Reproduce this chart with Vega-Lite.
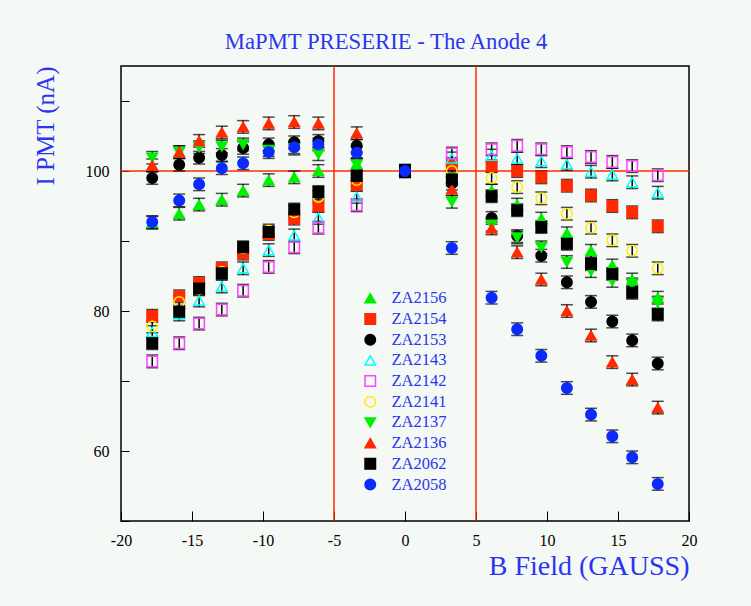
{
"$schema": "https://vega.github.io/schema/vega-lite/v6.json",
"width": 568, "height": 455,
"autosize": {"type": "none"},
"padding": {"left": 121, "top": 66, "right": 62, "bottom": 85},
"background": "#f5f9f5",
"config": {"view": {"stroke": "black", "strokeWidth": 1.5, "fill": "#f5f9f5"}, "font": "Liberation Serif",
 "axis": {"labelOverlap": false, "labelBound": false, "labelFlush": false, "domain": false, "grid": false}},
"title": {"text": "MaPMT PRESERIE - The Anode 4", "color": "#2a35f0", "font": "Liberation Serif", "fontSize": 22.7, "fontWeight": "normal", "offset": 12, "dx": -19},
"data": {"values": [
{"s":"ZA2156","x":-17.8,"y":92.6,"e":0.9},{"s":"ZA2156","x":-15.9,"y":93.9,"e":0.9},{"s":"ZA2156","x":-14.5,"y":95.2,"e":0.9},{"s":"ZA2156","x":-12.9,"y":95.9,"e":0.9},{"s":"ZA2156","x":-11.4,"y":97.2,"e":0.9},{"s":"ZA2156","x":-9.6,"y":98.7,"e":0.9},{"s":"ZA2156","x":-7.8,"y":99.1,"e":0.9},{"s":"ZA2156","x":-6.1,"y":100.0,"e":0.9},{"s":"ZA2156","x":-3.4,"y":101.0,"e":0.9},{"s":"ZA2156","x":0,"y":100,"e":0.9},{"s":"ZA2156","x":3.3,"y":99.1,"e":0.9},{"s":"ZA2156","x":6.1,"y":97.2,"e":0.9},{"s":"ZA2156","x":7.9,"y":95.2,"e":0.9},{"s":"ZA2156","x":9.6,"y":93.2,"e":0.9},{"s":"ZA2156","x":11.4,"y":91.1,"e":0.9},{"s":"ZA2156","x":13.1,"y":88.6,"e":0.9},{"s":"ZA2156","x":14.6,"y":86.5,"e":0.9},{"s":"ZA2156","x":16.0,"y":84.5,"e":0.9},{"s":"ZA2156","x":17.8,"y":81.9,"e":0.9},
{"s":"ZA2154","x":-17.8,"y":79.3,"e":0.9},{"s":"ZA2154","x":-15.9,"y":82.1,"e":0.9},{"s":"ZA2154","x":-14.5,"y":84.0,"e":0.9},{"s":"ZA2154","x":-12.9,"y":86.1,"e":0.9},{"s":"ZA2154","x":-11.4,"y":88.2,"e":0.9},{"s":"ZA2154","x":-9.6,"y":91.0,"e":0.9},{"s":"ZA2154","x":-7.8,"y":93.2,"e":0.9},{"s":"ZA2154","x":-6.1,"y":95.0,"e":0.9},{"s":"ZA2154","x":-3.4,"y":98.0,"e":0.9},{"s":"ZA2154","x":0,"y":100,"e":0.9},{"s":"ZA2154","x":3.3,"y":101.0,"e":0.9},{"s":"ZA2154","x":6.1,"y":100.7,"e":0.9},{"s":"ZA2154","x":7.9,"y":100.0,"e":0.9},{"s":"ZA2154","x":9.6,"y":99.1,"e":0.9},{"s":"ZA2154","x":11.4,"y":97.9,"e":0.9},{"s":"ZA2154","x":13.1,"y":96.5,"e":0.9},{"s":"ZA2154","x":14.6,"y":95.0,"e":0.9},{"s":"ZA2154","x":16.0,"y":94.1,"e":0.9},{"s":"ZA2154","x":17.8,"y":92.1,"e":0.9},
{"s":"ZA2153","x":-17.8,"y":99.0,"e":0.9},{"s":"ZA2153","x":-15.9,"y":100.9,"e":0.9},{"s":"ZA2153","x":-14.5,"y":101.9,"e":0.9},{"s":"ZA2153","x":-12.9,"y":102.3,"e":0.9},{"s":"ZA2153","x":-11.4,"y":103.3,"e":0.9},{"s":"ZA2153","x":-9.6,"y":103.8,"e":0.9},{"s":"ZA2153","x":-7.8,"y":104.1,"e":0.9},{"s":"ZA2153","x":-6.1,"y":104.3,"e":0.9},{"s":"ZA2153","x":-3.4,"y":103.6,"e":0.9},{"s":"ZA2153","x":0,"y":100,"e":0.9},{"s":"ZA2153","x":3.3,"y":98.2,"e":0.9},{"s":"ZA2153","x":6.1,"y":93.3,"e":0.9},{"s":"ZA2153","x":7.9,"y":90.7,"e":0.9},{"s":"ZA2153","x":9.6,"y":87.9,"e":0.9},{"s":"ZA2153","x":11.4,"y":84.1,"e":0.9},{"s":"ZA2153","x":13.1,"y":81.3,"e":0.9},{"s":"ZA2153","x":14.6,"y":78.5,"e":0.9},{"s":"ZA2153","x":16.0,"y":75.8,"e":0.9},{"s":"ZA2153","x":17.8,"y":72.5,"e":0.9},
{"s":"ZA2143","x":-17.8,"y":77.0,"e":0.9},{"s":"ZA2143","x":-15.9,"y":79.5,"e":0.9},{"s":"ZA2143","x":-14.5,"y":81.5,"e":0.9},{"s":"ZA2143","x":-12.9,"y":83.5,"e":0.9},{"s":"ZA2143","x":-11.4,"y":86.1,"e":0.9},{"s":"ZA2143","x":-9.6,"y":88.7,"e":0.9},{"s":"ZA2143","x":-7.8,"y":90.8,"e":0.9},{"s":"ZA2143","x":-6.1,"y":93.3,"e":0.9},{"s":"ZA2143","x":-3.4,"y":96.3,"e":0.9},{"s":"ZA2143","x":0,"y":100,"e":0.9},{"s":"ZA2143","x":3.3,"y":101.8,"e":0.9},{"s":"ZA2143","x":6.1,"y":102.2,"e":0.9},{"s":"ZA2143","x":7.9,"y":101.8,"e":0.9},{"s":"ZA2143","x":9.6,"y":101.4,"e":0.9},{"s":"ZA2143","x":11.4,"y":101.0,"e":0.9},{"s":"ZA2143","x":13.1,"y":99.9,"e":0.9},{"s":"ZA2143","x":14.6,"y":99.5,"e":0.9},{"s":"ZA2143","x":16.0,"y":98.4,"e":0.9},{"s":"ZA2143","x":17.8,"y":96.9,"e":0.9},
{"s":"ZA2142","x":-17.8,"y":72.8,"e":0.9},{"s":"ZA2142","x":-15.9,"y":75.4,"e":0.9},{"s":"ZA2142","x":-14.5,"y":78.2,"e":0.9},{"s":"ZA2142","x":-12.9,"y":80.2,"e":0.9},{"s":"ZA2142","x":-11.4,"y":82.9,"e":0.9},{"s":"ZA2142","x":-9.6,"y":86.3,"e":0.9},{"s":"ZA2142","x":-7.8,"y":89.1,"e":0.9},{"s":"ZA2142","x":-6.1,"y":91.9,"e":0.9},{"s":"ZA2142","x":-3.4,"y":95.1,"e":0.9},{"s":"ZA2142","x":0,"y":100,"e":0.9},{"s":"ZA2142","x":3.3,"y":102.5,"e":0.9},{"s":"ZA2142","x":6.1,"y":103.1,"e":0.9},{"s":"ZA2142","x":7.9,"y":103.6,"e":0.9},{"s":"ZA2142","x":9.6,"y":103.1,"e":0.9},{"s":"ZA2142","x":11.4,"y":102.7,"e":0.9},{"s":"ZA2142","x":13.1,"y":102.0,"e":0.9},{"s":"ZA2142","x":14.6,"y":101.3,"e":0.9},{"s":"ZA2142","x":16.0,"y":100.7,"e":0.9},{"s":"ZA2142","x":17.8,"y":99.4,"e":0.9},
{"s":"ZA2141","x":-17.8,"y":77.8,"e":0.9},{"s":"ZA2141","x":-15.9,"y":81.3,"e":0.9},{"s":"ZA2141","x":-14.5,"y":83.1,"e":0.9},{"s":"ZA2141","x":-12.9,"y":85.6,"e":0.9},{"s":"ZA2141","x":-11.4,"y":89.0,"e":0.9},{"s":"ZA2141","x":-9.6,"y":91.5,"e":0.9},{"s":"ZA2141","x":-7.8,"y":94.1,"e":0.9},{"s":"ZA2141","x":-6.1,"y":96.3,"e":0.9},{"s":"ZA2141","x":-3.4,"y":98.7,"e":0.9},{"s":"ZA2141","x":0,"y":100,"e":0.9},{"s":"ZA2141","x":3.3,"y":100.0,"e":0.9},{"s":"ZA2141","x":6.1,"y":99.0,"e":0.9},{"s":"ZA2141","x":7.9,"y":97.7,"e":0.9},{"s":"ZA2141","x":9.6,"y":96.1,"e":0.9},{"s":"ZA2141","x":11.4,"y":93.9,"e":0.9},{"s":"ZA2141","x":13.1,"y":91.9,"e":0.9},{"s":"ZA2141","x":14.6,"y":90.1,"e":0.9},{"s":"ZA2141","x":16.0,"y":88.6,"e":0.9},{"s":"ZA2141","x":17.8,"y":86.1,"e":0.9},
{"s":"ZA2137","x":-17.8,"y":101.9,"e":0.9},{"s":"ZA2137","x":-15.9,"y":102.7,"e":0.9},{"s":"ZA2137","x":-14.5,"y":103.4,"e":0.9},{"s":"ZA2137","x":-12.9,"y":103.5,"e":0.9},{"s":"ZA2137","x":-11.4,"y":103.8,"e":0.9},{"s":"ZA2137","x":-9.6,"y":103.0,"e":0.9},{"s":"ZA2137","x":-7.8,"y":103.2,"e":0.9},{"s":"ZA2137","x":-6.1,"y":102.4,"e":0.9},{"s":"ZA2137","x":-3.4,"y":100.9,"e":0.9},{"s":"ZA2137","x":0,"y":100,"e":0.9},{"s":"ZA2137","x":3.3,"y":95.6,"e":0.9},{"s":"ZA2137","x":6.1,"y":92.3,"e":0.9},{"s":"ZA2137","x":7.9,"y":90.5,"e":0.9},{"s":"ZA2137","x":9.6,"y":89.1,"e":0.9},{"s":"ZA2137","x":11.4,"y":87.0,"e":0.9},{"s":"ZA2137","x":13.1,"y":85.7,"e":0.9},{"s":"ZA2137","x":14.6,"y":84.3,"e":0.9},{"s":"ZA2137","x":16.0,"y":83.8,"e":0.9},{"s":"ZA2137","x":17.8,"y":81.2,"e":0.9},
{"s":"ZA2136","x":-17.8,"y":100.8,"e":0.9},{"s":"ZA2136","x":-15.9,"y":102.7,"e":0.9},{"s":"ZA2136","x":-14.5,"y":104.3,"e":0.9},{"s":"ZA2136","x":-12.9,"y":105.5,"e":0.9},{"s":"ZA2136","x":-11.4,"y":106.3,"e":0.9},{"s":"ZA2136","x":-9.6,"y":106.8,"e":0.9},{"s":"ZA2136","x":-7.8,"y":107.0,"e":0.9},{"s":"ZA2136","x":-6.1,"y":106.8,"e":0.9},{"s":"ZA2136","x":-3.4,"y":105.4,"e":0.9},{"s":"ZA2136","x":0,"y":100,"e":0.9},{"s":"ZA2136","x":3.3,"y":97.4,"e":0.9},{"s":"ZA2136","x":6.1,"y":91.8,"e":0.9},{"s":"ZA2136","x":7.9,"y":88.4,"e":0.9},{"s":"ZA2136","x":9.6,"y":84.5,"e":0.9},{"s":"ZA2136","x":11.4,"y":80.0,"e":0.9},{"s":"ZA2136","x":13.1,"y":76.5,"e":0.9},{"s":"ZA2136","x":14.6,"y":72.7,"e":0.9},{"s":"ZA2136","x":16.0,"y":70.2,"e":0.9},{"s":"ZA2136","x":17.8,"y":66.2,"e":0.9},
{"s":"ZA2062","x":-17.8,"y":75.4,"e":0.9},{"s":"ZA2062","x":-15.9,"y":79.9,"e":0.9},{"s":"ZA2062","x":-14.5,"y":83.2,"e":0.9},{"s":"ZA2062","x":-12.9,"y":85.4,"e":0.9},{"s":"ZA2062","x":-11.4,"y":89.1,"e":0.9},{"s":"ZA2062","x":-9.6,"y":91.3,"e":0.9},{"s":"ZA2062","x":-7.8,"y":94.5,"e":0.9},{"s":"ZA2062","x":-6.1,"y":97.0,"e":0.9},{"s":"ZA2062","x":-3.4,"y":99.3,"e":0.9},{"s":"ZA2062","x":0,"y":100,"e":0.9},{"s":"ZA2062","x":3.3,"y":98.8,"e":0.9},{"s":"ZA2062","x":6.1,"y":96.4,"e":0.9},{"s":"ZA2062","x":7.9,"y":94.4,"e":0.9},{"s":"ZA2062","x":9.6,"y":92.0,"e":0.9},{"s":"ZA2062","x":11.4,"y":89.6,"e":0.9},{"s":"ZA2062","x":13.1,"y":86.7,"e":0.9},{"s":"ZA2062","x":14.6,"y":85.3,"e":0.9},{"s":"ZA2062","x":16.0,"y":82.6,"e":0.9},{"s":"ZA2062","x":17.8,"y":79.5,"e":0.9},
{"s":"ZA2058","x":-17.8,"y":92.7,"e":0.9},{"s":"ZA2058","x":-15.9,"y":95.8,"e":0.9},{"s":"ZA2058","x":-14.5,"y":98.1,"e":0.9},{"s":"ZA2058","x":-12.9,"y":100.4,"e":0.9},{"s":"ZA2058","x":-11.4,"y":101.1,"e":0.9},{"s":"ZA2058","x":-9.6,"y":102.7,"e":0.9},{"s":"ZA2058","x":-7.8,"y":103.4,"e":0.9},{"s":"ZA2058","x":-6.1,"y":103.8,"e":0.9},{"s":"ZA2058","x":-3.4,"y":102.6,"e":0.9},{"s":"ZA2058","x":0,"y":100,"e":0.9},{"s":"ZA2058","x":3.3,"y":89.0,"e":0.9},{"s":"ZA2058","x":6.1,"y":81.9,"e":0.9},{"s":"ZA2058","x":7.9,"y":77.4,"e":0.9},{"s":"ZA2058","x":9.6,"y":73.6,"e":0.9},{"s":"ZA2058","x":11.4,"y":69.0,"e":0.9},{"s":"ZA2058","x":13.1,"y":65.2,"e":0.9},{"s":"ZA2058","x":14.6,"y":62.1,"e":0.9},{"s":"ZA2058","x":16.0,"y":59.1,"e":0.9},{"s":"ZA2058","x":17.8,"y":55.3,"e":0.9}
]},
"layer": [
{"data": {"values": [{"x": -5}, {"x": 5}]},
 "mark": {"type": "rule", "color": "#ff2a00", "strokeWidth": 1.5},
 "encoding": {"x": {"field": "x", "type": "quantitative", "title": "B Field (GAUSS)", "scale": {"domain": [-20, 20], "nice": false, "zero": false},
   "axis": {"title": "B Field (GAUSS)", "titleAnchor": "end", "titleColor": "#2a35f0", "titleFont": "Liberation Serif", "titleFontSize": 28, "titleFontWeight": "normal", "titlePadding": 4,
    "values": [-20,-15,-10,-5,0,5,10,15,20],
    "labelExpr": "'' + datum.value", "labelFont": "Liberation Serif", "labelFontSize": 16, "labelColor": "black", "labelPadding": 21, "labelFlush": false, "labelOverlap": false, "labelBound": false,
    "tickSize": -10, "tickColor": "black", "tickWidth": 1, "domain": false, "grid": false}}}},
{"data": {"values": [{"y": 100}]},
 "mark": {"type": "rule", "color": "#ff2a00", "strokeWidth": 1.5},
 "encoding": {"y": {"field": "y", "type": "quantitative", "title": "I PMT (nA)", "scale": {"domain": [50, 115], "nice": false, "zero": false},
   "axis": {"title": "I PMT (nA)", "titleAnchor": "end", "titleColor": "#2a35f0", "titleFont": "Liberation Serif", "titleFontSize": 25, "titleFontWeight": "normal", "titlePadding": 27,
    "values": [50,55,60,65,70,75,80,85,90,95,100,105,110,115],
    "labelExpr": "datum.value % 20 === 0 ? '' + datum.value : ''", "labelFont": "Liberation Serif", "labelFontSize": 16, "labelColor": "black", "labelPadding": 20, "labelFlush": false, "labelOverlap": false, "labelBound": false,
    "tickSize": -8, "tickColor": "black", "tickWidth": 1, "domain": false, "grid": false}}}},
{"mark": {"type": "errorbar", "color": "black", "thickness": 1.5, "ticks": {"size": 12, "thickness": 1.5, "color": "black"}},
 "encoding": {
  "x": {"field": "x", "type": "quantitative", "title": "B Field (GAUSS)", "scale": {"domain": [-20, 20], "nice": false, "zero": false}},
  "y": {"field": "y", "type": "quantitative", "title": "I PMT (nA)", "scale": {"domain": [50, 115], "nice": false, "zero": false}},
  "yError": {"field": "e"}}},
{"mark": {"type": "point", "size": 110, "strokeWidth": 1.5, "opacity": 1},
 "encoding": {
  "x": {"field": "x", "type": "quantitative", "title": "B Field (GAUSS)", "scale": {"domain": [-20, 20], "nice": false, "zero": false}},
  "y": {"field": "y", "type": "quantitative", "title": "I PMT (nA)", "scale": {"domain": [50, 115], "nice": false, "zero": false}},
  "shape": {"field": "s", "type": "nominal", "scale": {"domain": ["ZA2156","ZA2154","ZA2153","ZA2143","ZA2142","ZA2141","ZA2137","ZA2136","ZA2062","ZA2058"], "range": ["triangle-up","square","circle","triangle-up","square","circle","triangle-down","triangle-up","square","circle"]},
   "legend": {"orient": "none", "legendX": 241, "legendY": 224, "title": null, "labelFont": "Liberation Serif", "labelFontSize": 16.5, "labelColor": "#2a35f0", "symbolSize": 110, "symbolStrokeWidth": 1.5, "rowPadding": 3.7, "labelOffset": 13, "padding": 0}},
  "stroke": {"field": "s", "type": "nominal", "scale": {"domain": ["ZA2156","ZA2154","ZA2153","ZA2143","ZA2142","ZA2141","ZA2137","ZA2136","ZA2062","ZA2058"], "range": ["#00ee00","#ff2a00","#000000","#00ffff","#ff44ff","#ffee00","#00ee00","#ff2a00","#000000","#0a2aff"]},
   "legend": {"orient": "none", "legendX": 241, "legendY": 224, "title": null, "labelFont": "Liberation Serif", "labelFontSize": 16.5, "labelColor": "#2a35f0", "symbolSize": 110, "symbolStrokeWidth": 1.5, "rowPadding": 3.7, "labelOffset": 13, "padding": 0}},
  "fill": {"field": "s", "type": "nominal", "scale": {"domain": ["ZA2156","ZA2154","ZA2153","ZA2143","ZA2142","ZA2141","ZA2137","ZA2136","ZA2062","ZA2058"], "range": ["#00ee00","#ff2a00","#000000","transparent","transparent","transparent","#00ee00","#ff2a00","#000000","#0a2aff"]},
   "legend": {"orient": "none", "legendX": 241, "legendY": 224, "title": null, "labelFont": "Liberation Serif", "labelFontSize": 16.5, "labelColor": "#2a35f0", "symbolSize": 110, "symbolStrokeWidth": 1.5, "rowPadding": 3.7, "labelOffset": 13, "padding": 0}}
 }}
]
}
